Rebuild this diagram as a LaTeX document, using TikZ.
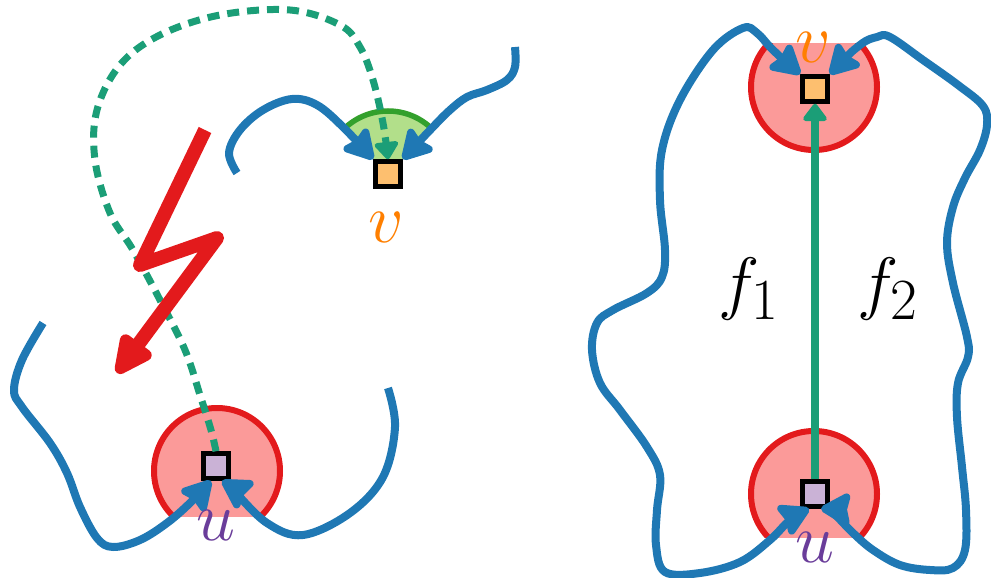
\documentclass[tikz,border=0pt]{standalone}
\usepackage{graphicx}
\usetikzlibrary{arrows.meta,calc}
\definecolor{cblue}{HTML}{1F78B4}
\definecolor{cred}{HTML}{E31A1C}
\definecolor{cpink}{HTML}{FB9A99}
\definecolor{cteal}{HTML}{1B9E77}
\definecolor{cwedge}{HTML}{B2DF8A}
\definecolor{cwedgeline}{HTML}{33A02C}
\definecolor{cvfill}{HTML}{FDBF6F}
\definecolor{cvlab}{HTML}{FF7F00}
\definecolor{cufill}{HTML}{CAB2D6}
\definecolor{culab}{HTML}{6A3D9A}
\newcommand{\bigmath}[1]{\scalebox{2.81}{\Huge$#1$}}
\begin{document}
\begin{tikzpicture}[x=1pt,y=-1pt,
  blueline/.style={draw=cblue, line width=8pt, line join=round},
  bluetip/.tip={Stealth[length=34pt,width=38pt,inset=4pt,round]},
  vertex/.style={rectangle, draw=black, line width=4.5pt, minimum size=25pt, inner sep=0pt},
  lbl/.style={inner sep=0pt},
  disc/.style={fill=cpink, draw=cred, line width=6pt},
  dashedgreen/.style={draw=cteal, line width=7pt, dash pattern=on 12pt off 8pt},
  greenline/.style={draw=cteal, line width=7.5pt},
  greentip/.tip={Triangle[length=19pt,width=27pt,round]}
]
\useasboundingbox (0,0) rectangle (991,578);

% discs
\filldraw[disc] (217,471) circle (63);
\filldraw[disc] (814,87) circle (63);
\filldraw[disc] (814,494) circle (63);

% white label boxes cutting the discs
\fill[white] (160,517) rectangle (275,578);
\fill[white] (755,0) rectangle (875,43);
\fill[white] (755,538) rectangle (875,578);

% wedge at left v
\fill[cwedge] (388,174) -- ++(-45:63) arc (-45:-135:63) -- cycle;
\draw[draw=cwedgeline, line width=5.5pt] ($(388,174)+(-45:63)$) arc (-45:-135:63);

% vertices
\node[vertex, fill=cvfill] (v1) at (388,174) {};
\node[vertex, fill=cufill] (u1) at (216,466) {};
\node[vertex, fill=cvfill] (v2) at (815,89) {};
\node[vertex, fill=cufill] (u2) at (815,494) {};

\coordinate (u1l) at ([xshift=-5pt]u1.south);
\coordinate (u1r) at ([xshift=6pt]u1.south);
\coordinate (u2l) at ([xshift=-6pt]u2.south);
\coordinate (u2r) at ([xshift=6pt]u2.south);

% dashed connection u -> v
\draw[dashedgreen, -{greentip}] plot[smooth, tension=0.6] coordinates {(u1.north) (211,430) (200,395) (185,350) (160,300) (133,250) (110,213) (95,160) (97,110) (120,65) (160,35) (220,15) (290,10) (340,25) (360,47) (373,80) (383,123) (v1.north)};

% lightning bolt
\draw[draw=cred, line width=14pt, line join=round, -{Triangle[length=46pt,width=40pt,round]}] (205,130) -- (140,265) -- (217,238) -- (117,373);

% left picture blue curves
\draw[blueline, -{bluetip}] plot[smooth, tension=0.6] coordinates {(237,173) (229,153) (240,130) (263,110) (292,99) (317,105) (343,127) (v1.north west)};
\draw[blueline, {bluetip}-] plot[smooth, tension=0.6] coordinates {(v1.north east) (433,127) (450,110) (467,97) (487,90) (507,80) (515,67) (515,47)};
\draw[blueline, -{bluetip}] plot[smooth, tension=0.6] coordinates {(43,323) (22,360) (14,390) (22,407) (50,443) (67,473) (80,507) (97,538) (113,547) (140,540) (167,523) (190,503) (u1l)};
\draw[blueline, {bluetip}-] plot[smooth, tension=0.6] coordinates {(u1r) (233,490) (267,523) (303,535) (350,513) (383,477) (395,427) (388,388)};

% right picture blue curves
\draw[blueline, {bluetip}-{bluetip}] plot[smooth, tension=0.6] coordinates {(v2.north west) (773,50) (757,33) (743,28) (713,50) (680,100) (662,150) (660,200) (665,250) (662,277) (647,293) (613,310) (597,323) (592,350) (600,383) (620,410) (647,447) (660,475) (657,510) (656,545) (665,572) (700,573) (740,562) (770,540) (790,520) (u2l)};
\draw[blueline, {bluetip}-{bluetip}] plot[smooth, tension=0.6] coordinates {(v2.north east) (860,45) (877,37) (890,37) (923,60) (958,85) (983,106) (987,125) (980,150) (965,178) (953,207) (947,243) (953,283) (967,337) (968,357) (958,383) (957,417) (962,467) (966,510) (965,550) (953,568) (930,570) (900,565) (873,550) (853,533) (833,513) (u2r)};

% green edge
\draw[greenline, -{greentip}] (u2) -- (v2);

% labels
\node[lbl, text=cvlab] (v1lab) at (386,227) {\bigmath{v}};
\node[lbl, text=culab] (u1lab) at (216,525) {\bigmath{u}};
\node[lbl, text=cvlab] (v2lab) at (813,47) {\bigmath{v}};
\node[lbl, text=culab] (u2lab) at (815,547) {\bigmath{u}};
\node[lbl, anchor=base] (f1) at (749,306) {\bigmath{f_1}};
\node[lbl, anchor=base] (f2) at (888,306) {\bigmath{f_2}};
\end{tikzpicture}
\end{document}
